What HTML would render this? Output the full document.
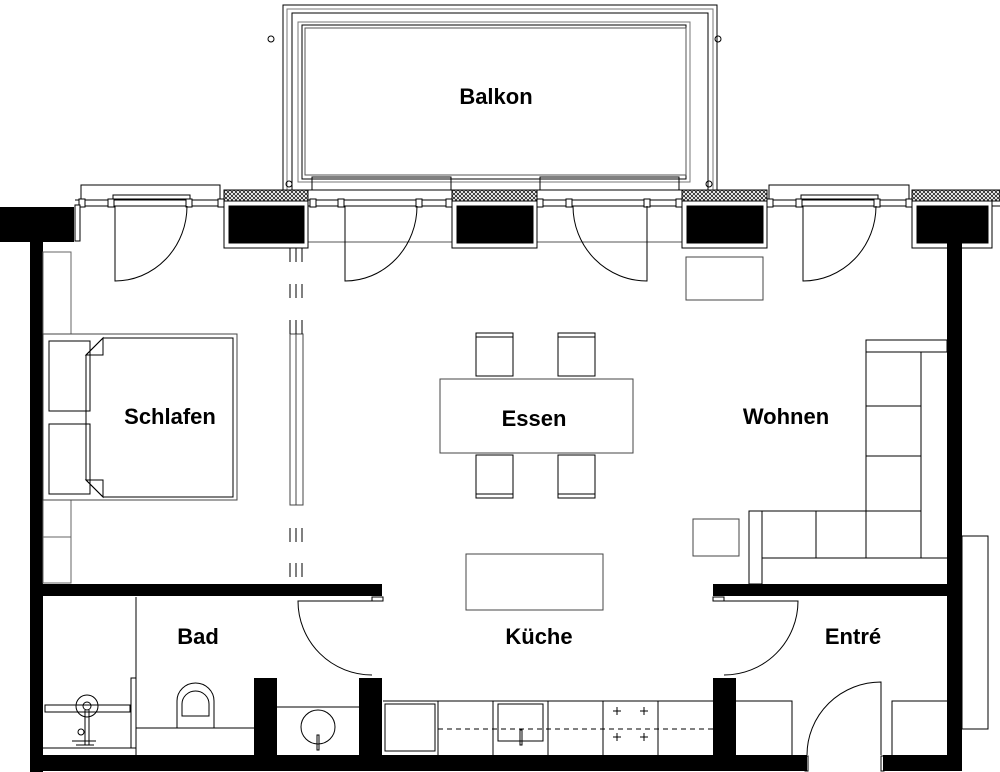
<!DOCTYPE html>
<html><head><meta charset="utf-8"><style>
html,body{margin:0;padding:0;background:#fff}
svg{display:block}
text{font-family:"Liberation Sans",sans-serif;font-weight:bold;font-size:22px;text-anchor:middle;fill:#000}
</style></head><body>
<svg width="1000" height="772" viewBox="0 0 1000 772" xmlns="http://www.w3.org/2000/svg">
<defs>
<pattern id="h" width="4" height="4" patternUnits="userSpaceOnUse">
<rect width="4" height="4" fill="#fff"/><path d="M0 0L4 4M4 0L0 4" stroke="#000" stroke-width="0.7"/>
</pattern>
</defs>
<g fill="none" stroke="#000" stroke-width="1">
<rect x="283" y="5" width="434" height="185"/>
<rect x="287" y="9" width="426" height="181" stroke="#777"/>
<rect x="292" y="13" width="416" height="177"/>
<rect x="298" y="22" width="392" height="160" stroke="#777"/>
<rect x="302" y="25" width="384" height="154"/>
<rect x="305" y="28" width="381" height="147" stroke="#555"/>
<rect x="312" y="177" width="139" height="13"/>
<rect x="540" y="177" width="139" height="13"/>
<circle cx="271" cy="39" r="3"/><circle cx="718" cy="39" r="3"/>
<circle cx="289" cy="184" r="3"/><circle cx="709" cy="184" r="3"/>
<rect x="81" y="185" width="139" height="15"/>
<rect x="769" y="185" width="140" height="15"/>
<line x1="75" y1="200" x2="1000" y2="200"/>
<line x1="75" y1="206" x2="1000" y2="206"/>
<line x1="305" y1="242" x2="683" y2="242" stroke="#555"/>
</g>
<g stroke="#000" stroke-width="1">
<rect x="224" y="190" width="84" height="11" fill="url(#h)"/>
<rect x="224" y="201" width="84" height="47" fill="#fff"/>
<rect x="229" y="206" width="75" height="37" fill="#000"/>
<rect x="452" y="190" width="85" height="11" fill="url(#h)"/>
<rect x="452" y="201" width="85" height="47" fill="#fff"/>
<rect x="457" y="206" width="76" height="37" fill="#000"/>
<rect x="682" y="190" width="85" height="11" fill="url(#h)"/>
<rect x="682" y="201" width="85" height="47" fill="#fff"/>
<rect x="687" y="206" width="76" height="37" fill="#000"/>
<rect x="912" y="190" width="88" height="11" fill="url(#h)"/>
<rect x="912" y="201" width="80" height="47" fill="#fff"/>
<rect x="917" y="206" width="71" height="37" fill="#000"/>
</g>
<g fill="#fff" stroke="#000" stroke-width="1">
<rect x="79" y="199" width="6" height="8"/><rect x="108" y="199" width="6" height="8"/><rect x="186" y="199" width="6" height="8"/><rect x="218" y="199" width="6" height="8"/>
<rect x="310" y="199" width="6" height="8"/><rect x="338" y="199" width="6" height="8"/><rect x="416" y="199" width="6" height="8"/><rect x="446" y="199" width="6" height="8"/>
<rect x="537" y="199" width="6" height="8"/><rect x="566" y="199" width="6" height="8"/><rect x="644" y="199" width="6" height="8"/><rect x="676" y="199" width="6" height="8"/>
<rect x="767" y="199" width="6" height="8"/><rect x="796" y="199" width="6" height="8"/><rect x="874" y="199" width="6" height="8"/><rect x="906" y="199" width="6" height="8"/>
<rect x="113" y="195" width="77" height="4"/><rect x="801" y="195" width="77" height="4"/>
<rect x="75" y="205" width="5" height="36"/>
</g>
<g fill="#000">
<rect x="0" y="207" width="74" height="35"/>
<rect x="30" y="207" width="13" height="565"/>
<rect x="30" y="755" width="777" height="16"/>
<rect x="883" y="755" width="79" height="16"/>
<rect x="947" y="242" width="15" height="529"/>
<rect x="43" y="584" width="339" height="12"/>
<rect x="713" y="584" width="234" height="12"/>
<rect x="254" y="678" width="23" height="77"/>
<rect x="359" y="678" width="23" height="77"/>
<rect x="713" y="678" width="23" height="77"/>
</g>
<g fill="none" stroke="#000" stroke-width="1">
<rect x="372" y="597" width="11" height="4"/>
<rect x="713" y="597" width="11" height="4"/>
<rect x="805" y="756" width="3" height="15"/><rect x="881" y="756" width="3" height="15"/>
<rect x="962" y="536" width="26" height="193"/>
<path d="M115 206V281A72 75 0 0 0 187 206"/>
<path d="M345 206V281A72 75 0 0 0 417 206"/>
<path d="M647 206V281A74 75 0 0 1 573 206"/>
<path d="M803 206V281A73 75 0 0 0 876 206"/>
<path d="M372 601H298A74 74 0 0 0 372 675"/>
<path d="M724 601H798A74 74 0 0 1 724 675"/>
<path d="M881 755V682A74 73 0 0 0 807 755"/>
<rect x="43" y="252" width="28" height="82" stroke="#666"/>
<rect x="43" y="500" width="28" height="83" stroke="#666"/>
<line x1="43" y1="537" x2="71" y2="537" stroke="#666"/>
<rect x="43" y="334" width="194" height="166" stroke="#444"/>
<path d="M103 338H233V497H103L86 480V355Z"/>
<path d="M86 355L103 338V355ZM86 480L103 497V480Z"/>
<rect x="49" y="341" width="41" height="70"/>
<rect x="49" y="424" width="41" height="70"/>
<rect x="290" y="334" width="13" height="171" stroke="#444"/>
<line x1="296" y1="334" x2="296" y2="505" stroke="#444"/>
<g stroke-dasharray="14 22">
<line x1="290" y1="248" x2="290" y2="334"/><line x1="296" y1="248" x2="296" y2="334"/><line x1="302" y1="248" x2="302" y2="334"/>
</g>
<g stroke-dasharray="14 21">
<line x1="290" y1="528" x2="290" y2="584"/><line x1="296" y1="528" x2="296" y2="584"/><line x1="302" y1="528" x2="302" y2="584"/>
</g>
<rect x="440" y="379" width="193" height="74" stroke="#444"/>
<rect x="476" y="333" width="37" height="43"/><line x1="476" y1="337" x2="513" y2="337"/>
<rect x="558" y="333" width="37" height="43"/><line x1="558" y1="337" x2="595" y2="337"/>
<rect x="476" y="455" width="37" height="43"/><line x1="476" y1="494" x2="513" y2="494"/>
<rect x="558" y="455" width="37" height="43"/><line x1="558" y1="494" x2="595" y2="494"/>
<rect x="466" y="554" width="137" height="56" stroke="#444"/>
<rect x="686" y="257" width="77" height="43" stroke="#444"/>
<rect x="866" y="340" width="81" height="12"/>
<rect x="866" y="352" width="55" height="159"/>
<line x1="921" y1="352" x2="921" y2="558"/>
<line x1="866" y1="406" x2="921" y2="406"/><line x1="866" y1="456" x2="921" y2="456"/>
<rect x="749" y="511" width="13" height="73"/>
<line x1="762" y1="511" x2="921" y2="511"/>
<line x1="762" y1="558" x2="947" y2="558"/>
<line x1="816" y1="511" x2="816" y2="558"/><line x1="866" y1="511" x2="866" y2="558"/>
<rect x="693" y="519" width="46" height="37" stroke="#444"/>
<line x1="136" y1="597" x2="136" y2="755"/>
<line x1="43" y1="748" x2="136" y2="748"/>
<rect x="131" y="678" width="5" height="70"/>
<rect x="45" y="705" width="85" height="7"/>
<circle cx="87" cy="706" r="11"/><circle cx="87" cy="706" r="4"/>
<line x1="85" y1="710" x2="85" y2="745"/><line x1="89" y1="710" x2="89" y2="745"/>
<circle cx="81" cy="732" r="3"/>
<path d="M72 741H96M76 745H94"/>
<line x1="136" y1="728" x2="254" y2="728"/>
<path d="M177 728V701A18.5 18 0 0 1 214 701V728"/>
<path d="M182 716V704A13.5 13 0 0 1 209 704V716Z"/>
<line x1="277" y1="707" x2="359" y2="707"/>
<circle cx="318" cy="727" r="17"/>
<rect x="317" y="735" width="2" height="15"/>
<line x1="383" y1="701" x2="713" y2="701"/>
<line x1="438" y1="701" x2="438" y2="755"/><line x1="493" y1="701" x2="493" y2="755"/>
<line x1="548" y1="701" x2="548" y2="755"/><line x1="603" y1="701" x2="603" y2="755"/>
<line x1="658" y1="701" x2="658" y2="755"/>
<rect x="385" y="704" width="50" height="47"/>
<rect x="498" y="704" width="45" height="37"/>
<rect x="520" y="730" width="2" height="15"/>
<line x1="438" y1="729" x2="713" y2="729" stroke-dasharray="5 4"/>
<path d="M613 711h8M617 707v8M640 711h8M644 707v8M613 737h8M617 733v8M640 737h8M644 733v8"/>
<path d="M736 701H792V755"/>
<path d="M947 701H892V755"/>
</g>
<text x="496" y="104">Balkon</text>
<text x="170" y="424">Schlafen</text>
<text x="534" y="426">Essen</text>
<text x="786" y="424">Wohnen</text>
<text x="198" y="644">Bad</text>
<text x="539" y="644">Küche</text>
<text x="853" y="644">Entré</text>
</svg>
</body></html>
